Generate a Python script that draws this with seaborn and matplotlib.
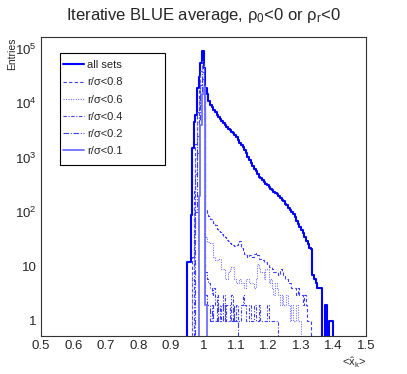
import numpy as np
import pandas as pd
import seaborn as sns
import matplotlib.pyplot as plt
from matplotlib.lines import Line2D
from matplotlib.patches import Rectangle
from matplotlib.ticker import FixedLocator, MultipleLocator, LogLocator, NullFormatter

# bin width of the histograms
bin_width = 0.005

# "all sets", first bin starts at 0.950
all_start = 0.950
all_sets = [12, 12, 88, 1500, 4500, 6000, 19000, 30000, 55000, 90000,
            45000, 19000, 15000, 11000, 9500, 8500, 7500, 6800, 6000, 5600,
            5100, 4700, 4300, 4000, 3700, 3400, 3200, 3000, 2800, 2600,
            2400, 2150, 1900, 1700, 1560, 1400, 1250, 1050, 900, 800,
            720, 620, 560, 500, 450, 420, 390, 360, 330, 310,
            290, 270, 260, 240, 225, 215, 195, 180, 170, 160,
            140, 135, 120, 110, 100, 92, 80, 70, 60, 53,
            47, 41, 35, 30, 26, 22, 21, 7, 6, 5,
            4, 4, 4, 0, 0, 2, 0, 1, 1, 1]

r08_start = 0.965
r08 = [15, 250, 1800, 7000, 18000, 40000, 60000, 25000, 110, 96,
       85, 75, 71, 62, 58, 50, 46, 43, 39, 36,
       35, 31, 29, 27, 26, 25, 24, 25, 28, 30,
       22, 20, 17, 16, 15, 16, 15, 15, 17, 18,
       16, 14, 14, 13, 12, 12, 11, 10, 10, 9,
       8, 8, 8, 7, 9, 8, 7, 6, 6, 5,
       5, 4, 4, 4, 3, 4, 3, 3, 2, 3,
       2, 1, 1]

r06_start = 0.965
r06 = [8, 120, 1000, 4500, 12000, 30000, 48000, 18000, 35, 28,
       28, 27, 27, 15, 13, 13, 14, 14, 9, 9,
       6, 6, 8, 9, 10, 10, 6, 5, 5, 6,
       5, 5, 4, 6, 6, 5, 5, 5, 4, 6,
       11, 9, 8, 8, 6, 9, 9, 5, 6, 4,
       3, 5, 4, 3, 2, 3, 2, 2, 3, 2,
       1, 2, 1, 1, 2, 1, 1]

r04_start = 0.970
r04 = [40, 500, 2500, 8000, 22000, 38000, 12000, 8, 6, 5,
       4, 3, 4, 2, 3, 2, 1, 2, 3, 1,
       2, 2, 1, 3, 2, 1, 2, 1, 1, 2,
       3, 2, 1, 1, 2, 1, 1, 2, 1, 1,
       2, 1, 1, 1, 1, 2, 1, 1, 1, 1,
       1, 1]

r02_start = 0.975
r02 = [100, 1200, 5000, 15000, 28000, 8000, 3, 2, 2, 1,
       2, 1, 1, 2, 1, 1, 1, 2, 1, 1,
       1, 1, 1, 2, 1, 1]

r01_start = 0.985
r01 = [200, 4000, 15000, 20000, 2]

labels = ["all sets", "r/σ<0.8", "r/σ<0.6", "r/σ<0.4", "r/σ<0.2", "r/σ<0.1"]

sns.set_theme(style="white")
plt.rcParams["font.family"] = ["Liberation Sans", "DejaVu Sans"]
plt.rcParams["mathtext.fontset"] = "custom"
plt.rcParams["mathtext.rm"] = "Liberation Sans"
plt.rcParams["mathtext.it"] = "Liberation Sans:italic"

blue = "#0000ff"
series = [
    (all_start, all_sets, dict(color=blue, linewidth=1.5, linestyle="-")),
    (r08_start, r08, dict(color="#3d3dff", linewidth=0.8, linestyle=(0, (3, 2)))),
    (r06_start, r06, dict(color="#7575ff", linewidth=0.8, linestyle=(0, (1, 1.2)))),
    (r04_start, r04, dict(color="#3d3dff", linewidth=0.8, linestyle=(0, (3, 1.5, 1, 1.5)))),
    (r02_start, r02, dict(color="#3d3dff", linewidth=0.8, linestyle=(0, (5, 1.5, 1, 1.5)))),
    (r01_start, r01, dict(color="#7070ff", linewidth=1.3, linestyle="-")),
]

fig = plt.figure(figsize=(4.07, 3.74), dpi=100)
ax = fig.add_axes([41 / 407, 38 / 374, 325 / 407, 299 / 374])

handles = []
for (start, vals, style), lab in zip(series, labels):
    n = len(vals)
    # pad with an empty bin on each side so the outline drops to zero
    w = np.array([0] + list(vals) + [0], dtype=float)
    lo = start - bin_width
    centers = lo + bin_width * (np.arange(n + 2) + 0.5)
    df = pd.DataFrame({"x": centers, "w": w})
    sns.histplot(data=df, x="x", weights="w", binwidth=bin_width,
                 binrange=(lo, lo + bin_width * (n + 2)), element="step",
                 fill=False, ax=ax, **style)
    line = ax.lines[-1]
    line.set_color(style["color"])
    line.set_linestyle(style["linestyle"])
    handles.append(Line2D([0], [0], label=lab, **style))

ax.set_yscale("log", nonpositive="clip")
ax.set_xlim(0.5, 1.5)
ax.set_ylim(0.53, 1.66e5)

xt = np.round(np.arange(0.5, 1.51, 0.1), 1)
ax.set_xticks(xt)
ax.set_xticklabels([("%g" % v) for v in xt])
ax.xaxis.set_minor_locator(MultipleLocator(0.02))

ax.yaxis.set_major_locator(FixedLocator([1, 10, 100, 1000, 1e4, 1e5]))
ax.set_yticklabels(["1", "10", "$10^{2}$", "$10^{3}$", "$10^{4}$", "$10^{5}$"])
ax.yaxis.set_minor_locator(LogLocator(base=10, subs=np.arange(2, 10), numticks=20))
ax.yaxis.set_minor_formatter(NullFormatter())

ax.tick_params(axis="x", which="major", direction="in", length=6.5, width=0.6,
               labelsize=9.5, pad=3, color="#333333")
ax.tick_params(axis="x", which="minor", direction="in", length=3.2, width=0.6,
               color="#333333")
ax.tick_params(axis="y", which="major", direction="in", length=5, width=0.6,
               labelsize=9.5, pad=3, color="#333333")
ax.tick_params(axis="y", which="minor", direction="in", length=2.5, width=0.6,
               color="#333333")
for s in ax.spines.values():
    s.set_color("#333333")
    s.set_linewidth(0.8)

ax.set_xlabel("")
ax.set_ylabel("")
fig.text(12 / 407, 1 - 37 / 374, "Entries", rotation=90, ha="center", va="top", fontsize=7.5)
fig.text(366 / 407, 1 - 355 / 374, r"<$\mathrm{\hat{x}_{k}}$>", ha="right", va="top", fontsize=8)
fig.text(0.5, 1 - 6 / 374, "Iterative BLUE average, ρ$_{0}$<0 or ρ$_{\\mathrm{r}}$<0",
         ha="center", va="top", fontsize=12)

# legend frame drawn as a plain box, like the original
ax.add_patch(Rectangle((60 / 407, 1 - 165 / 374), 105 / 407, 112 / 374,
                       transform=fig.transFigure, facecolor="white",
                       edgecolor="black", linewidth=0.8, zorder=5, clip_on=False))
leg = ax.legend(handles=handles, loc="upper left",
                bbox_to_anchor=(61 / 407, 1 - 58 / 374), bbox_transform=fig.transFigure,
                fontsize=8, frameon=False, handlelength=1.85,
                handletextpad=0.3, labelspacing=0.65, borderaxespad=0, borderpad=0.2)
leg.set_zorder(6)

fig.savefig("out.png", dpi=100)
